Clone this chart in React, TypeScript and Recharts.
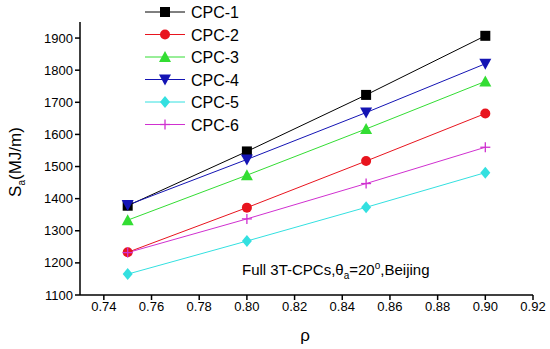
import React from 'react';
import { LineChart, Line, XAxis, YAxis, Customized } from 'recharts';

const rho = [0.75, 0.8, 0.85, 0.9];
const cpc1 = [1378, 1547, 1723, 1907];
const cpc2 = [1233, 1372, 1517, 1665];
const cpc3 = [1333, 1473, 1617, 1765];
const cpc4 = [1380, 1522, 1668, 1820];
const cpc5 = [1165, 1268, 1373, 1481];
const cpc6 = [1232, 1337, 1447, 1560];
const seriesNames = ['CPC-1', 'CPC-2', 'CPC-3', 'CPC-4', 'CPC-5', 'CPC-6'];
const xTicks = [0.74, 0.76, 0.78, 0.8, 0.82, 0.84, 0.86, 0.88, 0.9, 0.92];
const xMinor = [0.73, 0.75, 0.77, 0.79, 0.81, 0.83, 0.85, 0.87, 0.89, 0.91];
const yTicks = [1100, 1200, 1300, 1400, 1500, 1600, 1700, 1800, 1900];
const yMinor = [1150, 1250, 1350, 1450, 1550, 1650, 1750, 1850];

const data = rho.map((r, i) => ({
  rho: r,
  'CPC-1': cpc1[i],
  'CPC-2': cpc2[i],
  'CPC-3': cpc3[i],
  'CPC-4': cpc4[i],
  'CPC-5': cpc5[i],
  'CPC-6': cpc6[i],
}));

const colors = ['#000000', '#e8141e', '#33dd33', '#1414b4', '#33e0e0', '#d030d0'];
const shapes = ['square', 'circle', 'up', 'down', 'diamond', 'plus'];

function Marker({ cx, cy, shape, color }: any) {
  const s = 5;
  switch (shape) {
    case 'square':
      return <rect x={cx - s} y={cy - s} width={2 * s} height={2 * s} fill={color} />;
    case 'circle':
      return <circle cx={cx} cy={cy} r={s} fill={color} />;
    case 'up':
      return <polygon points={`${cx},${cy - s - 1} ${cx - s - 1},${cy + s} ${cx + s + 1},${cy + s}`} fill={color} />;
    case 'down':
      return <polygon points={`${cx},${cy + s + 1} ${cx - s - 1},${cy - s} ${cx + s + 1},${cy - s}`} fill={color} />;
    case 'diamond':
      return <polygon points={`${cx},${cy - s - 1} ${cx + s},${cy} ${cx},${cy + s + 1} ${cx - s},${cy}`} fill={color} />;
    case 'plus':
      return (
        <g stroke={color} strokeWidth={1.3}>
          <line x1={cx - s} y1={cy} x2={cx + s} y2={cy} />
          <line x1={cx} y1={cy - s} x2={cx} y2={cy + s} />
        </g>
      );
  }
  return null;
}

const font = 'Arial, "Liberation Sans", sans-serif';

function LegendBox() {
  return (
    <g>
      {seriesNames.map((n, i) => {
        const y = 12 + i * 22.5;
        return (
          <g key={n}>
            <line x1={145} y1={y} x2={185} y2={y} stroke={colors[i]} strokeWidth={1} />
            <Marker cx={165} cy={y} shape={shapes[i]} color={colors[i]} />
            <text x={191} y={y + 6} fontSize={16} fontFamily={font} fill="#000">{n}</text>
          </g>
        );
      })}
    </g>
  );
}

const blankTick = () => <g />;

function Annotation() {
  return (
    <text x={242} y={275} fontSize={15} fontFamily={font} fill="#000">
      Full 3T-CPCs,θ
      <tspan fontSize={10} dy={4}>a</tspan>
      <tspan dy={-4}>=20</tspan>
      <tspan fontSize={10} dy={-6}>o</tspan>
      <tspan dy={6}>,Beijing</tspan>
    </text>
  );
}

function YLabel() {
  return (
    <text transform="translate(21,162) rotate(-90)" textAnchor="middle" fontSize={17} fontFamily={font} fill="#000">
      S<tspan fontSize={10} dy={4}>a</tspan><tspan dy={-4}>(MJ/m)</tspan>
    </text>
  );
}

function XLabel() {
  return (
    <text x={305} y={341} textAnchor="middle" fontSize={17} fontFamily={font} fill="#000">ρ</text>
  );
}

export default function App() {
  return (
    <div style={{ position: 'absolute', left: 0, top: 0, width: 550, height: 349, background: '#fff' }}>
      <LineChart width={550} height={349} data={data} margin={{ top: 22, right: 17, bottom: 20, left: 20 }}>
        <XAxis
          dataKey="rho"
          type="number"
          domain={[0.73, 0.92]}
          ticks={xTicks}
          allowDataOverflow
          stroke="#000"
          strokeWidth={1.5}
          tickSize={5}
          tick={{ fontSize: 13, fontFamily: font, fill: '#000' }}
          tickFormatter={(v: number) => v.toFixed(2)}
          height={34}
          interval={0}
        />
        <XAxis
          xAxisId="minor"
          dataKey="rho"
          type="number"
          domain={[0.73, 0.92]}
          ticks={xMinor}
          allowDataOverflow
          axisLine={false}
          stroke="#000"
          strokeWidth={1.5}
          tickSize={3}
          tick={blankTick}
          height={0}
          interval={0}
        />
        <YAxis
          type="number"
          domain={[1100, 1950]}
          ticks={yTicks}
          allowDataOverflow
          stroke="#000"
          strokeWidth={1.5}
          tickSize={5}
          width={60}
          tick={{ fontSize: 13, fontFamily: font, fill: '#000' }}
          interval={0}
        />
        <YAxis
          yAxisId="minor"
          type="number"
          domain={[1100, 1950]}
          ticks={yMinor}
          allowDataOverflow
          axisLine={false}
          stroke="#000"
          strokeWidth={1.5}
          tickSize={3}
          tick={blankTick}
          width={0}
          interval={0}
        />
        {seriesNames.map((n, i) => (
          <Line
            key={n}
            dataKey={n}
            stroke={colors[i]}
            strokeWidth={1}
            isAnimationActive={false}
            dot={(p: any) => <Marker key={`${n}-${p.index}`} cx={p.cx} cy={p.cy} shape={shapes[i]} color={colors[i]} />}
            activeDot={false}
          />
        ))}
        <Customized component={<LegendBox />} />
        <Customized component={<Annotation />} />
        <Customized component={<YLabel />} />
        <Customized component={<XLabel />} />
      </LineChart>
    </div>
  );
}
